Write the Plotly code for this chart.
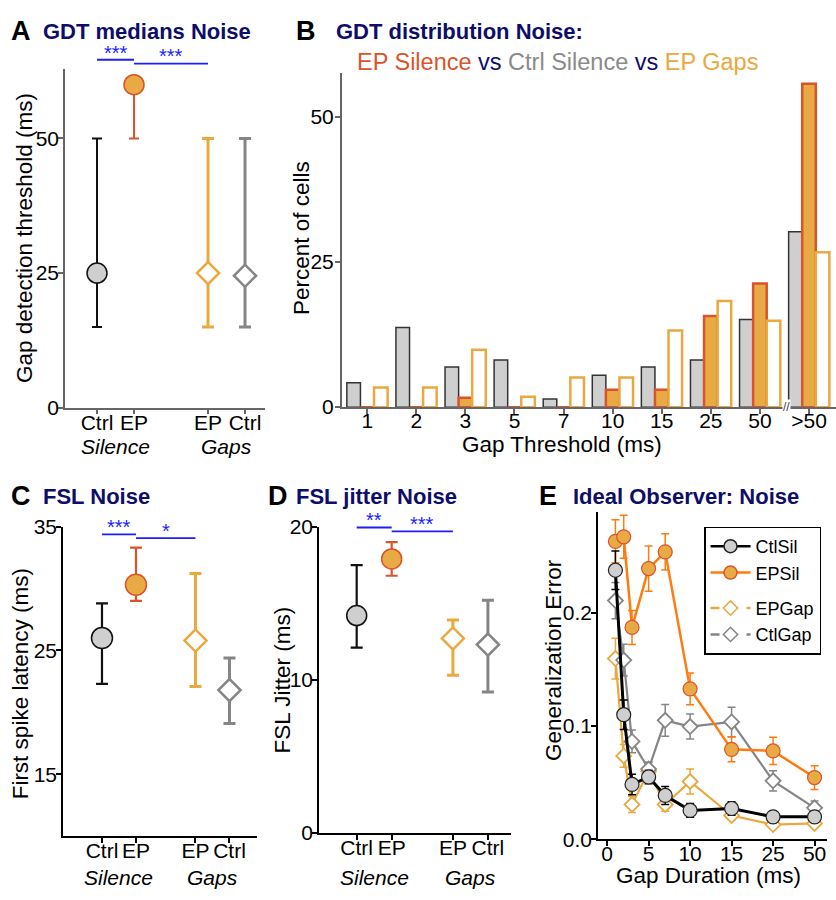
import numpy as np
import plotly.graph_objects as go

W, H = 836, 900
FONT = "Liberation Sans, Arial, sans-serif"
NAVY = "#0d0d6b"
BLUE = "#1e1eff"
EP_FILL = "#e8aa45"
EP_EDGE = "#d9532b"
GAP_EP = "#eaa83e"
GAP_CTL = "#858585"
CTL_FILL = "#cfcfcf"
EP_LINE = "#ff7b0f"

# ---------------- data ----------------
cond_labels = ["Ctrl", "EP", "EP", "Ctrl"]

# A: GDT medians (ms)
gdt_median = [25, 60, 25, 24.5]
gdt_low = [15, 50, 15, 15]
gdt_high = [50, 60, 50, 50]

# B: GDT distribution (% of cells)
gap_bins = ["1", "2", "3", "5", "7", "10", "15", "25", "50", ">50"]
ctrl_sil_pct = [4.2, 13.7, 6.9, 8.1, 1.4, 5.5, 6.9, 8.1, 15.1, 30.2]
ep_sil_pct = [0, 0, 1.6, 0, 0, 3.0, 3.0, 15.7, 21.3, 55.7]
ep_gap_pct = [3.4, 3.4, 9.9, 1.8, 5.1, 5.1, 13.2, 18.3, 14.9, 26.7]

# C: first spike latency (ms)
fsl_mid = [26.0, 30.3, 25.8, 21.8]
fsl_low = [22.3, 29.0, 22.1, 19.1]
fsl_high = [28.8, 33.3, 31.2, 24.4]

# D: FSL jitter (ms)
jit_mid = [14.2, 17.9, 12.7, 12.3]
jit_low = [12.1, 16.8, 10.3, 9.2]
jit_high = [17.5, 19.0, 13.9, 15.2]

# E: ideal observer
gap_dur = [1, 2, 3, 5, 7, 10, 15, 25, 50]
ctl_sil = [0.2375, 0.110, 0.0484, 0.055, 0.0387, 0.0255, 0.0272, 0.0198, 0.0198]
ctl_sil_err = [0.017, 0.013, 0.009, 0.006, 0.008, 0.006, 0.006, 0.005, 0.005]
ep_sil = [0.263, 0.267, 0.187, 0.239, 0.2537, 0.1328, 0.0794, 0.078, 0.0545]
ep_sil_err = [0.019, 0.019, 0.015, 0.020, 0.016, 0.014, 0.011, 0.012, 0.0105]
ep_gap = [0.1595, 0.0736, 0.0307, 0.060, 0.0307, 0.051, 0.021, 0.013, 0.014]
ep_gap_err = [0.018, 0.010, 0.007, 0.008, 0.006, 0.011, 0.004, 0.004, 0.003]
ctl_gap = [0.2107, 0.1582, 0.0864, 0.062, 0.105, 0.0995, 0.1036, 0.0516, 0.0278]
ctl_gap_err = [0.016, 0.014, 0.010, 0.006, 0.014, 0.011, 0.013, 0.009, 0.006]
gap_ticks = [0, 5, 10, 15, 25, 50]

# ---------------- layout helpers ----------------
def xd(a, b):
    return [a / W, b / W]

def yd(top, bottom):
    return [1 - bottom / H, 1 - top / H]

def py(px):
    return 1 - px / H

def px_x(px):
    return px / W

# plotting scale for E (compressed beyond 10 ms)
def e_scale(d):
    return np.interp(d, [0, 10, 15, 25, 50], [0, 10, 15, 20, 25])

posA = [1, 2, 4, 5]
posCD = [1, 2, 3.75, 4.75]

fig = go.Figure()

def errpoint(xa, ya, pos, mid, low, high, i, kind, color, edge, size, ew, et, lw):
    up = [high[i] - mid[i]]
    dn = [mid[i] - low[i]]
    if kind == "circle":
        marker = dict(symbol="circle", size=size, color=color, line=dict(color=edge, width=lw))
    else:
        marker = dict(symbol="diamond", size=size, color="white", line=dict(color=edge, width=lw))
    fig.add_trace(go.Scatter(
        x=[pos[i]], y=[mid[i]], xaxis=xa, yaxis=ya, mode="markers", marker=marker,
        error_y=dict(type="data", symmetric=False, array=up, arrayminus=dn,
                     color=edge, thickness=et, width=ew),
        showlegend=False, cliponaxis=False))

styles = [
    ("circle", CTL_FILL, "#111111"),
    ("circle", EP_FILL, EP_EDGE),
    ("diamond", "white", GAP_EP),
    ("diamond", "white", GAP_CTL),
]

for i in range(4):
    kind, col, edge = styles[i]
    # A
    errpoint("x", "y", posA, gdt_median, gdt_low, gdt_high, i, kind, col, edge,
             20 if kind == "circle" else 17, 5 if i < 2 else 6,
             2 if i < 2 else 3, 1.5 if kind == "circle" else 2.5)
    # C
    errpoint("x3", "y3", posCD, fsl_mid, fsl_low, fsl_high, i, kind, col, edge,
             21 if kind == "circle" else 17, 6, 2.2 if i < 2 else 3,
             1.5 if kind == "circle" else 2.5)
    # D
    errpoint("x4", "y4", posCD, jit_mid, jit_low, jit_high, i, kind, col, edge,
             20 if kind == "circle" else 17, 6, 2.2 if i < 2 else 3,
             1.5 if kind == "circle" else 2.5)

# B bars
fig.add_trace(go.Bar(x=gap_bins, y=ctrl_sil_pct, xaxis="x2", yaxis="y2",
                     marker=dict(color=CTL_FILL, line=dict(color="#333333", width=1.5)),
                     showlegend=False))
fig.add_trace(go.Bar(x=gap_bins, y=ep_sil_pct, xaxis="x2", yaxis="y2",
                     marker=dict(color=EP_FILL, line=dict(color=EP_EDGE, width=2.5)),
                     showlegend=False))
fig.add_trace(go.Bar(x=gap_bins, y=ep_gap_pct, xaxis="x2", yaxis="y2",
                     marker=dict(color="white", line=dict(color=GAP_EP, width=2.5)),
                     showlegend=False))

# E lines
ex = e_scale(gap_dur)
e_series = [
    (ep_gap, ep_gap_err, GAP_EP, "diamond", "white", GAP_EP, 2.2, 11.5),
    (ctl_gap, ctl_gap_err, GAP_CTL, "diamond", "white", GAP_CTL, 2.2, 11.5),
    (ep_sil, ep_sil_err, EP_LINE, "circle", EP_FILL, EP_EDGE, 2.5, 14),
    (ctl_sil, ctl_sil_err, "black", "circle", CTL_FILL, "#222222", 3, 14),
]
for yv, ev, lc, sym, mf, me, lw, ms in e_series:
    fig.add_trace(go.Scatter(
        x=ex, y=yv, xaxis="x5", yaxis="y5", mode="lines+markers",
        line=dict(color=lc, width=lw),
        marker=dict(symbol=sym, size=ms, color=mf,
                    line=dict(color=me, width=1.8 if sym == "diamond" else 1.2)),
        error_y=dict(type="data", array=ev, color=lc, thickness=1.5, width=4),
        showlegend=False, cliponaxis=False))

# legend-only traces
leg = [
    ("CtlSil", "black", "solid", "circle", CTL_FILL, "#222222", "sil"),
    ("EPSil", EP_LINE, "solid", "circle", EP_FILL, EP_EDGE, "sil"),
    ("EPGap", GAP_EP, "dash", "diamond", "white", GAP_EP, "gap"),
    ("CtlGap", GAP_CTL, "dash", "diamond", "white", GAP_CTL, "gap"),
]
for name, lc, dash, sym, mf, me, grp in leg:
    fig.add_trace(go.Scatter(
        x=[None], y=[None], xaxis="x5", yaxis="y5", mode="lines+markers", name=name,
        legendgroup=grp,
        line=dict(color=lc, width=2.5, dash=dash),
        marker=dict(symbol=sym, size=13 if sym == "circle" else 11, color=mf,
                    line=dict(color=me, width=1.5)),
        showlegend=True))

TICKSZ = 21
axis_common = dict(showline=True, linewidth=1.5, ticks="outside", ticklen=5, tickwidth=1.5,
                   showgrid=False, zeroline=False,
                   tickfont=dict(family=FONT, size=TICKSZ, color="black"))
grey_axis = dict(axis_common, linecolor="#666666", tickcolor="#666666")
black_axis = dict(axis_common, linecolor="black", tickcolor="black")
XSO = -10
YSO = -5

fig.update_layout(
    width=W, height=H, margin=dict(l=0, r=0, t=0, b=0),
    paper_bgcolor="white", plot_bgcolor="white",
    font=dict(family=FONT, size=19, color="black"),
    barmode="group", bargap=0.17, bargroupgap=0,
    # A
    xaxis=dict(grey_axis, domain=xd(65, 265), range=[0.135, 5.54],
               tickvals=posA, ticktext=cond_labels, anchor="y", ticklabelstandoff=XSO),
    yaxis=dict(grey_axis, domain=yd(58, 406), range=[0, 63], tickvals=[0, 25, 50], anchor="x",
               ticklabelstandoff=YSO),
    # B
    xaxis2=dict(grey_axis, domain=xd(341.7, 836), type="category", range=[-0.52, 9.55],
                anchor="y2", ticklabelstandoff=XSO - 1),
    yaxis2=dict(grey_axis, domain=yd(63, 405.5), range=[0, 57.5], tickvals=[0, 25, 50],
                anchor="x2", ticklabelstandoff=YSO + 2),
    # C
    xaxis3=dict(black_axis, domain=xd(63, 257), range=[-0.147, 5.56],
                tickvals=posCD, ticktext=cond_labels, anchor="y3", ticklabelstandoff=XSO),
    yaxis3=dict(black_axis, domain=yd(528, 846), range=[10, 35], tickvals=[15, 25, 35],
                anchor="x3", ticklabelstandoff=YSO),
    # D
    xaxis4=dict(black_axis, domain=xd(319, 511), range=[-0.077, 5.41],
                tickvals=posCD, ticktext=cond_labels, anchor="y4", ticklabelstandoff=XSO),
    yaxis4=dict(black_axis, domain=yd(528.3, 842.3), range=[0, 20], tickvals=[0, 10, 20],
                anchor="x4", ticklabelstandoff=YSO),
    # E
    xaxis5=dict(black_axis, domain=xd(598, 827), range=[-1.1, 26.5],
                tickvals=list(e_scale(gap_ticks)), ticktext=[str(t) for t in gap_ticks],
                anchor="y5", ticklabelstandoff=XSO),
    yaxis5=dict(black_axis, domain=yd(513, 849), range=[0, 0.289], tickvals=[0, 0.1, 0.2],
                tickformat=".1f", anchor="x5", ticklabelstandoff=YSO),
    legend=dict(x=px_x(704), y=py(528), xanchor="left", yanchor="top",
                bordercolor="black", borderwidth=1.5, bgcolor="white",
                font=dict(family=FONT, size=18, color="black"),
                traceorder="grouped", tracegroupgap=9, itemwidth=40),
)

ann = []
shapes = []

def text(x, y, s, size=19, color="black", bold=False, italic=False, xanchor="center",
         yanchor="middle", angle=0):
    if bold:
        s = "<b>" + s + "</b>"
    if italic:
        s = "<i>" + s + "</i>"
    ann.append(dict(x=px_x(x), y=py(y), xref="paper", yref="paper", text=s, showarrow=False,
                    font=dict(family=FONT, size=size, color=color), xanchor=xanchor,
                    yanchor=yanchor, textangle=angle))

# panel letters and titles
for L, lx, ly in [("A", 9, 20), ("B", 294, 20), ("C", 9, 497), ("D", 266, 497), ("E", 537, 497)]:
    text(lx, ly, L, size=27, bold=True, xanchor="left")
text(41, 20, "GDT medians Noise", size=22, color=NAVY, bold=True, xanchor="left")
text(334, 20, "GDT distribution Noise:", size=22, color=NAVY, bold=True, xanchor="left")
sub = ("<span style='color:%s'>EP Silence</span> <span style='color:%s'>vs</span> "
       "<span style='color:#8a8a8a'>Ctrl Silence</span> <span style='color:%s'>vs</span> "
       "<span style='color:%s'>EP Gaps</span>") % (EP_EDGE, NAVY, NAVY, GAP_EP)
text(355, 51, sub, size=23.5, xanchor="left")
text(41, 497, "FSL Noise", size=22, color=NAVY, bold=True, xanchor="left")
text(294, 497, "FSL jitter Noise", size=22, color=NAVY, bold=True, xanchor="left")
text(571, 497, "Ideal Observer: Noise", size=22, color=NAVY, bold=True, xanchor="left")

# axis titles
AXT = 22.5
text(24, 232, "Gap detection threshold (ms)", size=AXT, angle=-90)
text(301, 232, "Percent of cells", size=AXT, angle=-90)
text(20, 690, "First spike latency (ms)", size=AXT, angle=-90)
text(282, 686, "FSL Jitter (ms)", size=AXT, angle=-90)
text(553, 665, "Generalization Error", size=AXT, angle=-90)
text(562, 444, "Gap Threshold (ms)", size=AXT)
text(708, 886, "Gap Duration (ms)", size=AXT)

# group labels
def group_labels(xa, pos, ypx):
    for lab, a, b in [("Silence", pos[0], pos[1]), ("Gaps", pos[2], pos[3])]:
        ann.append(dict(x=(a + b) / 2, y=py(ypx), xref=xa, yref="paper", text="<i>" + lab + "</i>",
                        showarrow=False, font=dict(family=FONT, size=TICKSZ, color="black"),
                        xanchor="center", yanchor="middle"))

group_labels("x", posA, 446)
group_labels("x3", posCD, 888)
group_labels("x4", posCD, 888)

# significance bars
def sig(xa, x0, x1, ypx, stars):
    shapes.append(dict(type="line", xref=xa, yref="paper", x0=x0, x1=x1, y0=py(ypx), y1=py(ypx),
                       line=dict(color=BLUE, width=1.8)))
    ann.append(dict(x=(x0 + x1) / 2, y=py(ypx + 6), xref=xa, yref="paper", text=stars,
                    showarrow=False, font=dict(family=FONT, size=20, color=BLUE),
                    xanchor="center", yanchor="bottom"))

sig("x", posA[0], posA[1], 49, "***")
sig("x", posA[1], posA[2], 53, "***")
sig("x3", posCD[0], posCD[1], 536, "***")
sig("x3", posCD[1], posCD[2], 540, "*")
sig("x4", posCD[0], posCD[1], 529, "**")
sig("x4", posCD[1], posCD[2], 533, "***")

# axis break mark on B
ann.append(dict(x=8.55, y=py(405), xref="x2", yref="paper", text="//", showarrow=False,
                font=dict(family=FONT, size=12, color="#444444"), bgcolor="white",
                xanchor="center", yanchor="middle", borderpad=0))

fig.update_layout(annotations=ann, shapes=shapes)
fig.write_html("out.html", config={"displayModeBar": False},
               post_script="document.body.style.margin='0';document.body.style.overflow='hidden';")
